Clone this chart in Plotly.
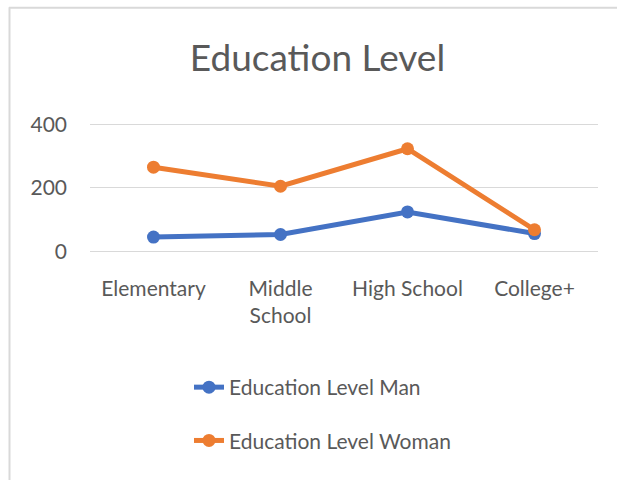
import plotly.graph_objects as go

categories = ["Elementary", "Middle<br>School", "High School", "College+"]
man_values = [45, 53, 124, 56]
woman_values = [265, 205, 323, 68]
series_names = ["Education Level Man", "Education Level Woman"]
y_ticks = [0, 200, 400]

W, H = 617, 480
Y_LO, Y_HI = -2, 404
PX_PER_UNIT = 127 / 400
L, R = 90, 19
T = 124 - (Y_HI - 400) * PX_PER_UNIT
B = H - (251 + (0 - Y_LO) * PX_PER_UNIT)
FONT = "Lato, sans-serif"
GRAY = "#595959"
GRID = "#D9D9D9"

fig = go.Figure()
for name, vals, col, grp in [(series_names[0], man_values, "#4472C4", "a"),
                             (series_names[1], woman_values, "#ED7D31", "b")]:
    fig.add_trace(go.Scatter(
        x=categories, y=vals, name=name, mode="lines+markers",
        line=dict(color=col, width=5), marker=dict(color=col, size=13),
        legendgroup=grp,
    ))

pw = W - L - R
ph = H - T - B
def px2paper_x(px):
    return (px - L) / pw
def py2paper_y(py):
    return (H - B - py) / ph

fig.update_layout(
    width=W, height=H,
    margin=dict(l=L, r=R, t=T, b=B, autoexpand=False),
    paper_bgcolor="white", plot_bgcolor="white",
    font=dict(family=FONT, color=GRAY, size=21),
    title=dict(text="Education Level", x=317.5 / W, xanchor="center",
               y=1 - 58 / H, yanchor="middle",
               font=dict(family=FONT, size=37, color=GRAY)),
    xaxis=dict(showgrid=False, showline=False, ticks="", zeroline=False,
               tickangle=0, range=[-0.5, 3.5],
               tickfont=dict(size=21, color=GRAY), ticklabelstandoff=22),
    yaxis=dict(range=[Y_LO, Y_HI], tickvals=y_ticks, showgrid=True,
               gridcolor=GRID, gridwidth=1, zeroline=True,
               zerolinecolor=GRID, zerolinewidth=1, showline=False,
               tickfont=dict(size=21, color=GRAY), ticklabelstandoff=22),
    showlegend=True,
    legend=dict(orientation="v", xref="container", yref="container",
                x=189 / W, xanchor="left", y=1 - 367 / H, yanchor="top",
                font=dict(size=21, color=GRAY), tracegroupgap=23,
                bgcolor="rgba(0,0,0,0)"),
    shapes=[
        dict(type="line", xref="paper", yref="paper",
             x0=px2paper_x(9), x1=px2paper_x(W + 5),
             y0=py2paper_y(7.5), y1=py2paper_y(7.5),
             line=dict(color=GRID, width=2), layer="below"),
        dict(type="line", xref="paper", yref="paper",
             x0=px2paper_x(9.5), x1=px2paper_x(9.5),
             y0=py2paper_y(7), y1=py2paper_y(H + 5),
             line=dict(color=GRID, width=2), layer="below"),
    ],
)

fig.write_html("out.html")
